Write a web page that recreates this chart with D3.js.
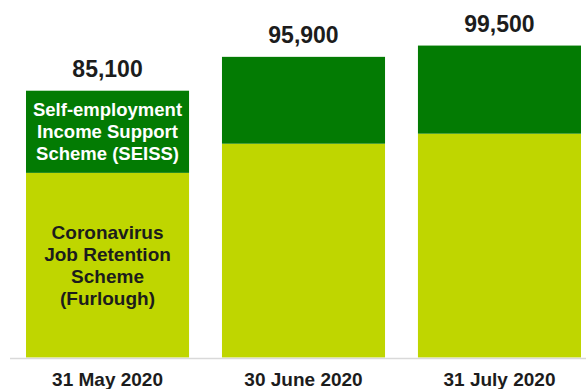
<!DOCTYPE html>
<html>
<head>
<meta charset="utf-8">
<script src="https://cdn.jsdelivr.net/npm/d3@7"></script>
<style>
  html, body { margin: 0; padding: 0; background: #fff; }
  svg { display: block; font-family: "Liberation Sans", Arial, sans-serif; }
</style>
</head>
<body>
<svg id="chart" width="586" height="389"></svg>
<script>
// Claimant categories (dates) and the two support schemes stacked in each bar
const categories = ["31 May 2020", "30 June 2020", "31 July 2020"];
const furlough = [58900, 68200, 71400];
const seiss = [26200, 27700, 28100];
const totals = [85100, 95900, 99500];
const seissLabel = ["Self-employment", "Income Support", "Scheme (SEISS)"];
const furloughLabel = ["Coronavirus", "Job Retention", "Scheme", "(Furlough)"];

const W = 586, H = 389;
const svg = d3.select("#chart");

const x = d3.scaleBand()
  .domain(categories)
  .range([26, 581])
  .paddingInner(0.168)
  .paddingOuter(0);

const y = d3.scaleLinear()
  .domain([0, 100000])
  .range([357.5, 44]);

const rows = categories.map((c, i) => ({ c, f: furlough[i], s: seiss[i], t: totals[i] }));

const colFurlough = "#bfd600";
const colSeiss = "#037b03";
const textDark = "#1c1c1c";

// Furlough segment (bottom)
svg.append("g").selectAll("rect")
  .data(rows).join("rect")
  .attr("x", d => x(d.c))
  .attr("width", x.bandwidth())
  .attr("y", d => y(d.f))
  .attr("height", d => y(0) - y(d.f))
  .attr("fill", colFurlough);

// SEISS segment (top)
svg.append("g").selectAll("rect")
  .data(rows).join("rect")
  .attr("x", d => x(d.c))
  .attr("width", x.bandwidth())
  .attr("y", d => y(d.f + d.s))
  .attr("height", d => y(d.f) - y(d.f + d.s))
  .attr("fill", colSeiss);

// Baseline
svg.append("line")
  .attr("x1", 10).attr("x2", W)
  .attr("y1", y(0) + 1).attr("y2", y(0) + 1)
  .attr("stroke", "#d9d9d9").attr("stroke-width", 1.5);

// Total labels above each bar
svg.append("g").selectAll("text")
  .data(rows).join("text")
  .attr("x", d => x(d.c) + x.bandwidth() / 2)
  .attr("y", d => y(d.t) - 14)
  .attr("text-anchor", "middle")
  .attr("font-size", 23)
  .attr("font-weight", "bold")
  .attr("fill", textDark)
  .text(d => d3.format(",")(d.t));

// Segment labels inside the first bar
function segmentLabel(lines, yTop, yBottom, color, size) {
  const cx = x(categories[0]) + x.bandwidth() / 2;
  const mid = (yTop + yBottom) / 2;
  const lh = 22;
  const t = svg.append("text")
    .attr("text-anchor", "middle")
    .attr("font-size", size)
    .attr("font-weight", "bold")
    .attr("fill", color);
  lines.forEach((ln, i) => {
    t.append("tspan")
      .attr("x", cx)
      .attr("y", mid + (i - (lines.length - 1) / 2) * lh + size * 0.36)
      .text(ln);
  });
}
segmentLabel(seissLabel, y(totals[0]), y(furlough[0]), "#ffffff", 18.5);
segmentLabel(furloughLabel, y(furlough[0]), y(0), textDark, 19);

// Category axis
const axis = d3.axisBottom(x).tickSize(0).tickPadding(0);
const gx = svg.append("g")
  .attr("transform", `translate(0,${y(0)})`)
  .call(axis);
gx.select(".domain").remove();
gx.selectAll("text")
  .attr("y", 28.5)
  .attr("dy", 0)
  .attr("font-size", 19)
  .attr("font-weight", "bold")
  .attr("font-family", "'Liberation Sans', Arial, sans-serif")
  .attr("fill", textDark);
</script>
</body>
</html>
